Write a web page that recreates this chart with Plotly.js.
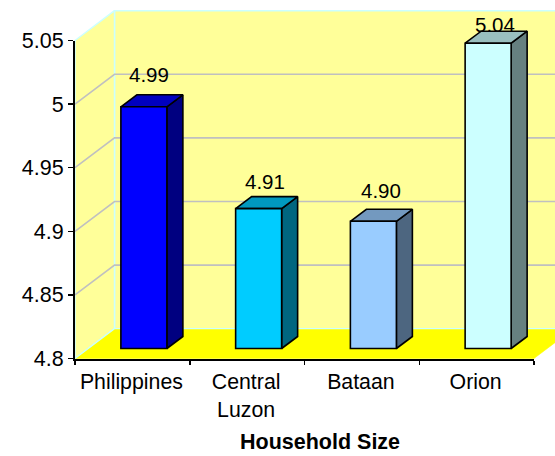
<!DOCTYPE html>
<html><head><meta charset="utf-8">
<script src="https://cdn.plot.ly/plotly-3.0.1.min.js"></script>
<style>html,body{margin:0;padding:0;background:#fff;overflow:hidden}</style>
</head><body><div id="chart" style="width:555px;height:456px"></div>
<script>
const categories = ["Philippines", "Central<br>Luzon", "Bataan", "Orion"];
const householdSize = [4.99, 4.91, 4.90, 5.04];
const yTicks = [4.8, 4.85, 4.9, 4.95, 5, 5.05];
const yTickLabels = ["4.8", "4.85", "4.9", "4.95", "5", "5.05"];
const frontColors = ["#0000FF", "#00CCFF", "#99CCFF", "#CCFFFF"];
const topColors = ["#0000BF", "#0099BF", "#7399BF", "#99BFBF"];
const sideColors = ["#000080", "#006680", "#4D6680", "#668080"];

// projection helpers, pixels to axis units
const W = 555, H = 456;
const M = {l: 75, r: 21, t: 40.5, b: 97.5};
const pxX = (W - M.l - M.r) / 4, pxY = (H - M.t - M.b) / 0.25;
const yMin = 4.8, yMax = 5.05;
const wallDX = 39.5 / pxX, wallDY = 29.8 / pxY;
const gapY = 10 / pxY;
const barW = 46 / pxX, barOff = -11.5 / pxX;
const depthX = 16 / pxX, depthY = 12 / pxY;
const xL = -0.5, xR = 3.5;

function poly(xs, ys, fill, line, lw) {
  return {type: "scatter", mode: "lines", x: xs.concat(xs[0]), y: ys.concat(ys[0]),
    fill: "toself", fillcolor: fill, line: {color: line, width: lw, simplify: false},
    hoverinfo: "skip", showlegend: false, xaxis: "x", yaxis: "y"};
}
function seg(xs, ys, color, w) {
  return {type: "scatter", mode: "lines", x: xs, y: ys, line: {color: color, width: w, simplify: false},
    hoverinfo: "skip", showlegend: false, xaxis: "x", yaxis: "y"};
}

const traces = [];
const WALL = "#FFFF99", FLOOR = "#FFFF00", EDGE = "#CCFFFF", GRID = "#C0C0C0";
// back wall, side wall, floor
traces.push(poly([xL + wallDX, xR + wallDX, xR + wallDX, xL + wallDX],
                 [yMin + wallDY, yMin + wallDY, yMax + wallDY, yMax + wallDY], WALL, EDGE, 1.5));
traces.push(poly([xL, xL + wallDX, xL + wallDX, xL],
                 [yMin, yMin + wallDY, yMax + wallDY, yMax], WALL, EDGE, 1.5));
yTicks.slice(1, -1).forEach(v => {
  traces.push(seg([xL, xL + wallDX, xR + wallDX], [v, v + wallDY, v + wallDY], GRID, 1.6));
});
traces.push(poly([xL, xR, xR + wallDX, xL + wallDX],
                 [yMin, yMin, yMin + wallDY, yMin + wallDY], FLOOR, FLOOR, 0.5));
traces.push(seg([xL, xL + wallDX, xR + wallDX], [yMin, yMin + wallDY, yMin + wallDY], EDGE, 1.2));
// bar side and top faces
householdSize.forEach((v, i) => {
  const l = i + barOff, r = l + barW, t = v + gapY, b = yMin + gapY;
  traces.push(poly([r, r + depthX, r + depthX, r], [b, b + depthY, t + depthY, t], sideColors[i], "#000", 1.6));
  traces.push(poly([l, r, r + depthX, l + depthX], [t, t, t + depthY, t + depthY], topColors[i], "#000", 1.6));
});
// bar front faces on the category axis
traces.push({type: "bar", x: categories, y: householdSize.map(v => v - yMin),
  base: householdSize.map(() => yMin + gapY), width: barW, offset: barOff,
  marker: {color: frontColors, line: {color: "#000", width: 1.6}},
  hoverinfo: "skip", showlegend: false, xaxis: "x2", yaxis: "y2"});

const labelDX = [16.6, 18, 19, 18], labelLift = [32, 27, 31, 19];
const annotations = householdSize.map((v, i) => ({
  x: i, y: v + gapY, xref: "x2", yref: "y2", text: v.toFixed(2), showarrow: false,
  xshift: labelDX[i], yshift: labelLift[i], yanchor: "middle", xanchor: "center",
  font: {family: "Liberation Sans, Arial, sans-serif", size: 20.5, color: "#000"}
}));
annotations.push({xref: "paper", yref: "paper", x: 320 / W, y: (H - 442) / H,
  text: "<b>Household Size</b>", showarrow: false, xanchor: "center", yanchor: "middle",
  font: {family: "Liberation Sans, Arial, sans-serif", size: 21.5, color: "#000"}});

const layout = {
  width: W, height: H, margin: {l: 0, r: 0, t: 0, b: 0, pad: 0},
  paper_bgcolor: "#fff", plot_bgcolor: "rgba(0,0,0,0)", showlegend: false, barmode: "overlay",
  font: {family: "Liberation Sans, Arial, sans-serif", color: "#000", size: 21},
  // full-page hidden axes carry the projected walls and bar faces
  xaxis: {type: "linear", domain: [0, 1], range: [xL - M.l / pxX, xR + M.r / pxX], visible: false, fixedrange: true},
  yaxis: {type: "linear", domain: [0, 1], range: [yMin - M.b / pxY, yMax + M.t / pxY], visible: false, fixedrange: true},
  xaxis2: {type: "category", anchor: "y2", domain: [M.l / W, 1 - M.r / W], range: [xL, xR],
    showgrid: false, zeroline: false, showline: true, linecolor: "#000", linewidth: 2,
    ticks: "outside", tickson: "boundaries", ticklen: 4, tickwidth: 1.5, tickcolor: "#000",
    ticklabelstandoff: 3, ticklabelshift: -1,
    tickfont: {size: 21.3}, categoryorder: "array", categoryarray: categories, fixedrange: true, automargin: false},
  yaxis2: {type: "linear", anchor: "x2", domain: [M.b / H, 1 - M.t / H], range: [yMin, yMax],
    tickmode: "array", tickvals: yTicks, ticktext: yTickLabels,
    showgrid: false, zeroline: false, showline: true, linecolor: "#000", linewidth: 2,
    ticks: "outside", ticklen: 5, tickwidth: 1.5, tickcolor: "#000", tickfont: {size: 21.5}, fixedrange: true, automargin: false},
  annotations
};
Plotly.newPlot("chart", traces, layout, {displayModeBar: false, staticPlot: true});
</script></body></html>
